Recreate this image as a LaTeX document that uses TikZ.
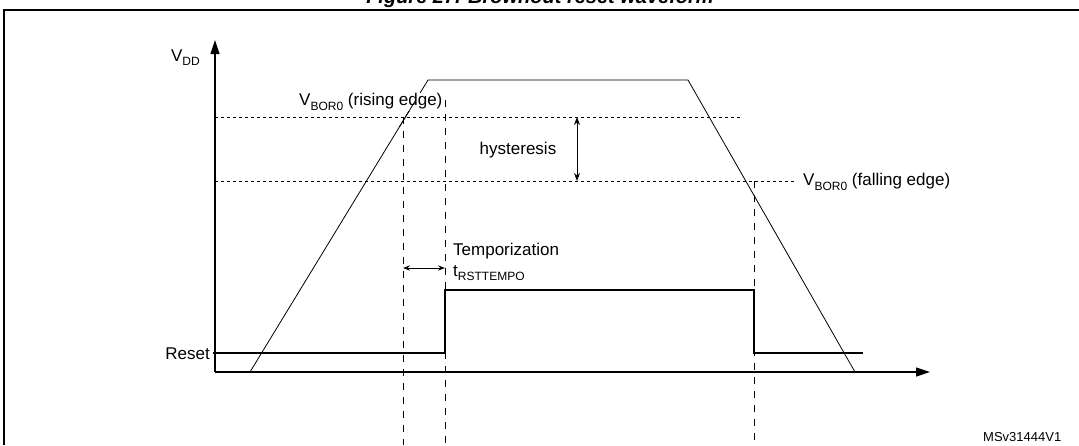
\documentclass[tikz,border=0pt]{standalone}
\usepackage{fontspec}
\setmainfont{Liberation Sans}
\usetikzlibrary{arrows.meta,calc}
\newcommand{\sbs}[1]{\raisebox{-0.25em}{\fontsize{12}{12}\selectfont #1}}
\begin{document}
\begin{tikzpicture}[x=1pt,y=-1pt,
  lbl/.style={inner sep=0pt,font=\fontsize{17}{19}\selectfont},
  axis/.style={line width=1.2pt,-{Triangle[length=14pt,width=9pt]}},
  dots/.style={line width=1pt,dash pattern=on 2.5pt off 3.5pt},
  vdash/.style={line width=1pt,dash pattern=on 7pt off 7pt},
  wave/.style={line width=0.8pt},
  rst/.style={line width=2.2pt}]
\useasboundingbox (0,0) rectangle (1079,445);
\fill[white] (0,0) rectangle (1079,445);
\node[lbl,font=\fontsize{20}{22}\selectfont\bfseries\itshape,anchor=base] (title) at (540,3) {Figure 27. Brownout reset waveform};
\draw[line width=1.8pt] (4,445) -- (4,10) -- (1085,10);
% axes
\coordinate (o) at (215,372);
\coordinate (ytip) at (215,40);
\coordinate (xtip) at (930,372);
\draw[axis] (o) -- (ytip);
\draw[axis] (o) -- (xtip);
\node[lbl,anchor=east] (vdd) at (200,58) {V\sbs{DD}};
% thresholds
\coordinate (r0) at (215,117); \coordinate (r1) at (742,117);
\coordinate (f0) at (215,181); \coordinate (f1) at (795,181);
\draw[dots] (r0) -- (r1);
\draw[dots] (f0) -- (f1);
% waveform
\coordinate (w0) at (250,372); \coordinate (w1) at (428,80);
\coordinate (w2) at (688,80); \coordinate (w3) at (855,372);
\draw[wave] (w0) -- (w1) -- (w2) -- (w3);
\node[lbl,anchor=west,fill=white,inner sep=1pt] (rise) at (298,102) {V\sbs{BOR0} (rising edge)};
\draw[wave] ($(w0)!0.84!(w1)$) -- ($(w0)!0.93!(w1)$);
\node[lbl,anchor=west] (fall) at (803,182) {V\sbs{BOR0} (falling edge)};
% hysteresis
\coordinate (h0) at (577,117); \coordinate (h1) at (577,181);
\draw[line width=1pt,{Stealth[length=8pt]}-{Stealth[length=8pt]}] (h0) -- (h1);
\node[lbl] (hyst) at (518,150) {hysteresis};
% dashed verticals
\coordinate (d1a) at (403,117); \coordinate (d1b) at (403,445);
\coordinate (d2a) at (445,100); \coordinate (d2b) at (445,445);
\coordinate (d3a) at (754,181); \coordinate (d3b) at (754,445);
\draw[vdash] (d1a) -- (d1b);
\draw[vdash] (d2a) -- (d2b);
\draw[vdash] (d3a) -- (d3b);
% temporization
\coordinate (t0) at (403,268); \coordinate (t1) at (445,268);
\draw[line width=1pt,{Stealth[length=7pt]}-{Stealth[length=7pt]}] (t0) -- (t1);
\node[lbl,anchor=west] (temp) at (453,251) {Temporization};
\node[lbl,anchor=west] (trst) at (453,273) {t\sbs{RSTTEMPO}};
% reset
\node[lbl,anchor=east] (reset) at (210,354) {Reset};
\coordinate (s0) at (213,353); \coordinate (s1) at (445,353);
\coordinate (s2) at (445,290); \coordinate (s3) at (754,290);
\coordinate (s4) at (754,353); \coordinate (s5) at (863,353);
\draw[rst] (s0) -- (s1) -- (s2) -- (s3) -- (s4) -- (s5);
\node[inner sep=0pt,anchor=base west,font=\fontsize{13}{14}\selectfont] (ms) at (983,441) {MSv31444V1};
\end{tikzpicture}
\end{document}
